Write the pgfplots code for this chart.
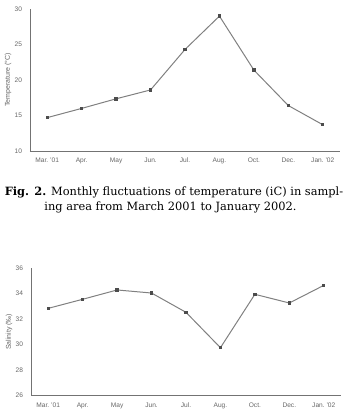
\documentclass[border=0pt]{standalone}
\usepackage{fontspec}
\setmainfont{DejaVu Serif}
\setsansfont{Liberation Sans}
\usepackage{pgfplots}
\pgfplotsset{compat=1.18}

\definecolor{axisgray}{gray}{0.45}
\definecolor{linegray}{gray}{0.5}
\definecolor{markgray}{gray}{0.3}
\definecolor{labelgray}{gray}{0.4}

\pgfplotsset{
  monthly/.style={
    scale only axis,
    width=310pt,
    xmin=-0.5, xmax=8.5,
    axis x line*=bottom,
    axis y line*=left,
    axis line style={-, axisgray, line width=0.9pt},
    major tick length=0pt,
    xtick={0,...,8},
    xticklabels={Mar.\ '01, Apr., May, Jun., Jul., Aug., Oct., Dec., Jan.\ '02},
    /pgf/number format/assume math mode=true,
    tick label style={font=\sffamily\fontsize{6.6}{7.5}\selectfont, text=labelgray},
    xticklabel style={yshift=-3.5pt},
    yticklabel style={xshift=-4.5pt},
    every axis y label/.style={at={(axis description cs:0,0.5)}, rotate=90,
      anchor=center, yshift=22pt,
      font=\sffamily\fontsize{7}{8}\selectfont, text=labelgray},
    clip=false,
  },
  series/.style={linegray, line width=1pt, mark=square*,
    mark size=1.2pt, mark options={markgray, fill=markgray}},
}

\begin{document}
\begin{tikzpicture}[x=1pt,y=1pt]
\path[use as bounding box] (0,0) rectangle (348,418);

% Temperature
\begin{axis}[monthly, at={(30pt,267pt)}, anchor=south west, height=142pt,
  ymin=10, ymax=30, ytick={10,15,20,25,30},
  ylabel={Temperature (°C)}]
\addplot[series] coordinates {
  (0,14.7) (1,16.0) (2,17.35) (3,18.6) (4,24.3)
  (5,29.0) (6,21.4) (7,16.4) (8,13.7)};
\end{axis}

\node[font=\fontsize{11.4}{13}\selectfont, anchor=center] at (174,226)
  {\textbf{Fig. 2.} Monthly fluctuations of temperature (iC) in sampl-};
\node[font=\fontsize{11.4}{13}\selectfont, anchor=center] at (170.5,211)
  {ing area from March 2001 to January 2002.};

% Salinity
\begin{axis}[monthly, at={(31pt,22.3pt)}, anchor=south west, height=127.7pt,
  ymin=26, ymax=36, ytick={26,28,30,32,34,36},
  ylabel={Salinity (‰)}]
\addplot[series] coordinates {
  (0,32.84) (1,33.55) (2,34.28) (3,34.04) (4,32.53)
  (5,29.76) (6,33.94) (7,33.26) (8,34.64)};
\end{axis}
\end{tikzpicture}
\end{document}
